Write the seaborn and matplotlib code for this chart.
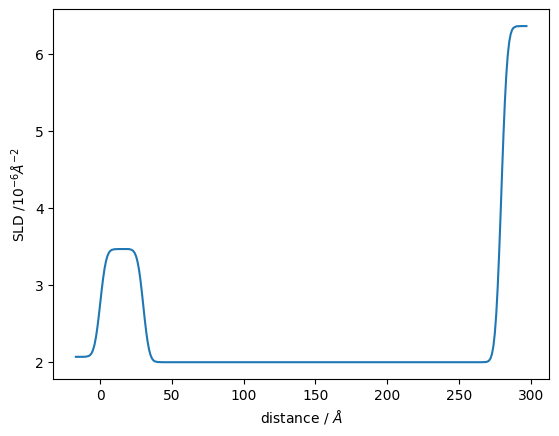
"""
SLD profile plot
"""

import pandas as pd
import matplotlib
matplotlib.use('Agg')
import matplotlib.pyplot as plt
import seaborn as sns


# distance values (Angstrom)
distance = [-17, -12, -10, -8, -7, -6, -5, -4, -3, -2, -1, 0, 1, 2, 3, 4, 5, 6, 7, 8,
            10, 13, 16, 20, 22, 23, 24, 25, 26, 27, 28, 29, 30, 31, 32, 33, 34, 35,
            36, 37, 38, 40, 44, 50, 100, 150, 200, 250, 266, 269, 270, 271, 272, 273,
            274, 275, 276, 277, 278, 279, 280, 281, 282, 283, 284, 285, 286, 287, 288,
            290, 293, 297]

# SLD values (10^-6 A^-2)
sld = [2.070, 2.070, 2.072, 2.081, 2.094, 2.118, 2.161, 2.228, 2.324, 2.451, 2.603,
       2.770, 2.937, 3.089, 3.216, 3.312, 3.379, 3.422, 3.446, 3.459,
       3.468, 3.470, 3.470, 3.470, 3.459, 3.445, 3.419, 3.375, 3.304, 3.203, 3.070,
       2.910, 2.735, 2.560, 2.400, 2.267, 2.166, 2.095,
       2.051, 2.025, 2.011, 2.002, 2.000, 2.000, 2.000, 2.000, 2.000, 2.000, 2.000,
       2.003, 2.009, 2.022, 2.050, 2.107,
       2.209, 2.377, 2.630, 2.979, 3.418, 3.920, 4.446, 4.948, 5.387, 5.736, 5.989,
       6.157, 6.259, 6.316, 6.344,
       6.363, 6.366, 6.366]

df = pd.DataFrame({'distance': distance, 'sld': sld})

fig, ax = plt.subplots(figsize=(5.59, 4.36), dpi=100)
fig.subplots_adjust(left=0.0954, right=0.982, top=0.9787, bottom=0.1307)

sns.lineplot(data=df, x='distance', y='sld', ax=ax, color='#1f77b4', linewidth=1.5)

ax.set_xlabel(r'distance / $\AA$')
ax.set_ylabel(r'SLD /$10^{-6}\AA^{-2}$')

fig.savefig('out.png', dpi=100)
